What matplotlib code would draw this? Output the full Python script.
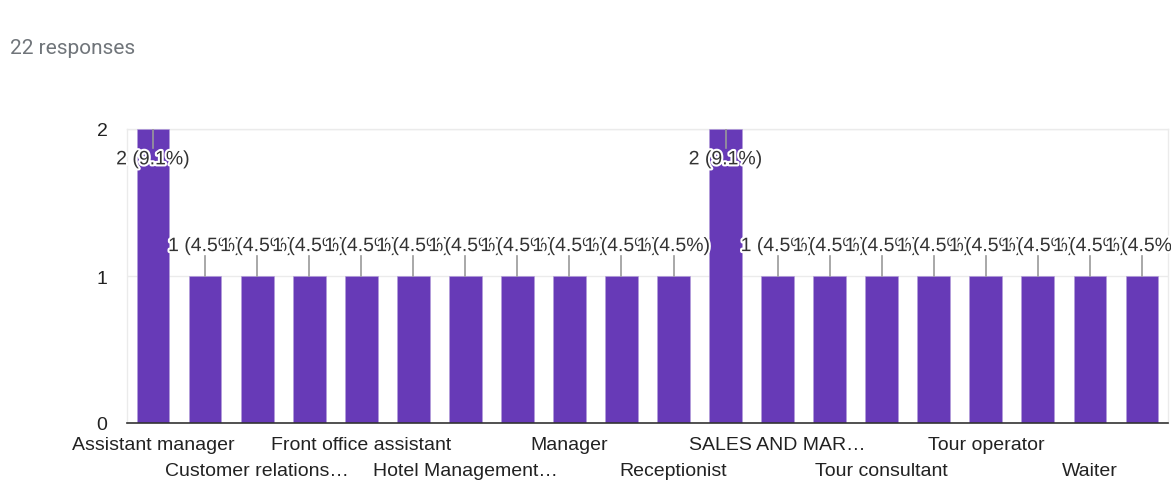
import matplotlib
matplotlib.use("Agg")
import matplotlib.pyplot as plt
import matplotlib.patheffects as pe
from matplotlib.transforms import blended_transform_factory

# ---- data ----
values = [2, 1, 1, 1, 1, 1, 1, 1, 1, 1, 1, 2, 1, 1, 1, 1, 1, 1, 1, 1]
shown_labels = ["Assistant manager", "Customer relations…", "Front office assistant",
                "Hotel Management…", "Manager", "Receptionist", "SALES AND MAR…",
                "Tour consultant", "Tour operator", "Waiter"]
total_responses = 22
yticks = [0, 1, 2]

plt.rcParams['font.family'] = ['Liberation Sans', 'DejaVu Sans']

fig = plt.figure(figsize=(11.71, 4.81), dpi=100)
ax = fig.add_axes([127 / 1171, 1 - 424 / 481, (1168 - 127) / 1171, (424 - 130) / 481])

n = len(values)
x = list(range(n))
ax.bar(x, values, width=0.63, color="#673ab7", edgecolor="#b39ddb", linewidth=0.4, zorder=3)
ax.set_xlim(-0.5, n - 0.5)
ax.set_ylim(0, 2)

# grid / frame
ax.set_yticks(yticks)
ax.set_yticklabels([str(v) for v in yticks], fontsize=14, color="#222222")
ax.tick_params(axis='y', length=0, pad=14)
ax.tick_params(axis='x', length=0, labelbottom=False)
ax.grid(axis='y', color="#ebebeb", linewidth=1, zorder=0)
for s in ["top", "right", "left"]:
    ax.spines[s].set_color("#ebebeb")
    ax.spines[s].set_linewidth(1)
ax.spines["bottom"].set_color("#333333")
ax.spines["bottom"].set_linewidth(1.2)
ax.spines["bottom"].set_zorder(4)

# value annotations with leader lines
halo = [pe.withStroke(linewidth=3, foreground="white")]
for xi, v in zip(x, values):
    pct = v / total_responses * 100
    txt = f"{v} ({pct:.1f}%)"
    if v == max(values):
        ax.plot([xi, xi], [v, v - 0.13], color="#999999", lw=1.2, zorder=5)
        ax.text(xi, v - 0.21, txt, ha="center", va="center", fontsize=14,
                color="#333333", path_effects=halo, zorder=6)
    else:
        ax.plot([xi, xi], [v, v + 0.135], color="#999999", lw=1.2, zorder=5)
        ax.text(xi, v + 0.2, txt, ha="center", va="center", fontsize=14,
                color="#333333", path_effects=halo, zorder=6)

# category labels on alternating rows
trans = blended_transform_factory(ax.transData, fig.transFigure)
for i, lab in enumerate(shown_labels):
    xi = 2 * i
    ypix = 446 if i % 2 == 0 else 472
    ax.text(xi, 1 - ypix / 481, lab, transform=trans, ha="center", va="center",
            fontsize=14, color="#222222", clip_on=False)

fig.text(10 / 1171, 1 - 48 / 481, f"{total_responses} responses", fontsize=15,
         color="#70757a", family=["Roboto", "DejaVu Sans"], ha="left", va="center")

fig.savefig("out.png", dpi=100, facecolor="white")
